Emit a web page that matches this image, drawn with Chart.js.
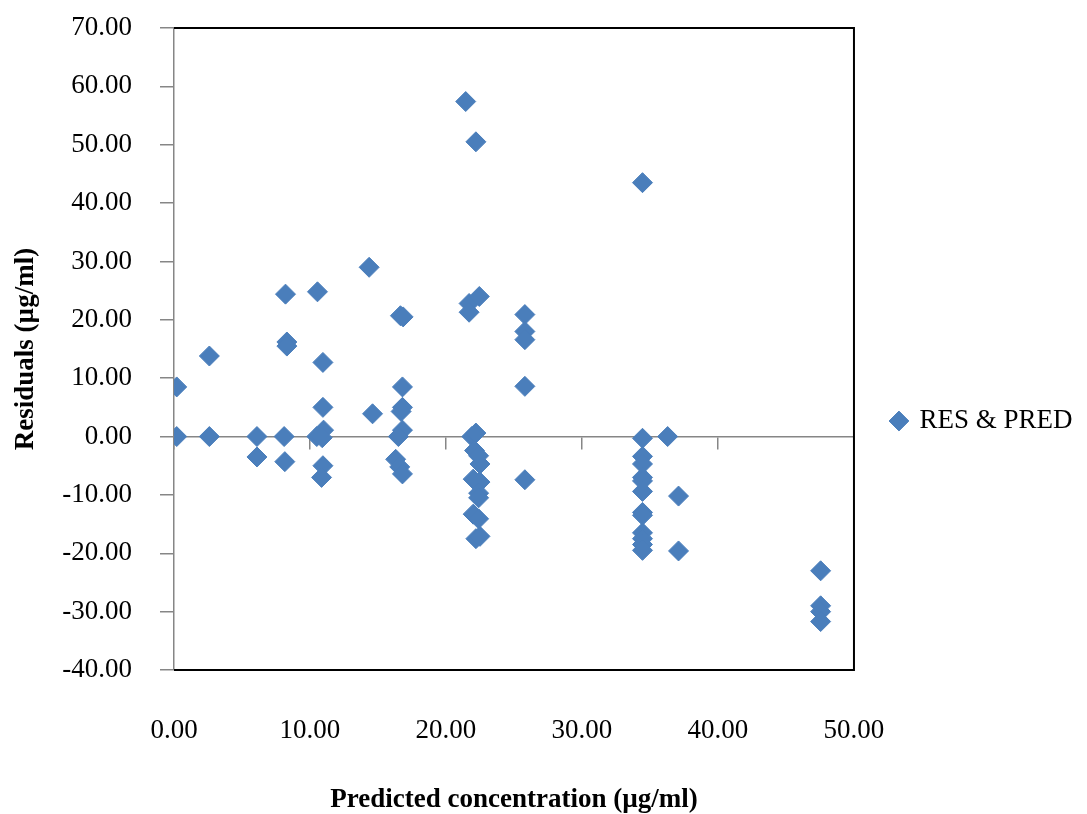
<!DOCTYPE html>
<html>
<head>
<meta charset="utf-8">
<title>Residuals vs predicted concentration</title>
<script src="https://cdn.jsdelivr.net/npm/chart.js@4.4.1/dist/chart.umd.min.js"></script>
<style>
  html, body { margin: 0; padding: 0; background: #fff; }
  #wrap { width: 1087px; height: 814px; }
</style>
</head>
<body>
<div id="wrap"><canvas id="chart" width="1087" height="814"></canvas></div>
<script>
// values
const seriesName = 'RES & PRED';
const predicted = [
    0.2, 0.2, 2.6, 2.6, 6.1, 6.1,
    8.2, 8.3, 8.3, 8.1, 8.15,
    10.55, 10.95, 10.95, 11.0, 10.5, 10.9, 10.95, 10.85,
    14.35, 14.6,
    16.65, 16.85, 16.8, 16.8, 16.7, 16.8, 16.5, 16.3, 16.6, 16.8,
    21.45, 22.2, 21.7, 22.45, 21.7,
    21.9, 22.2, 22.1, 22.4, 22.5, 22.0, 22.5, 22.4, 22.4, 22.0, 22.4, 22.2, 22.5,
    25.8, 25.8, 25.8, 25.8, 25.8,
    34.45, 34.45, 34.45, 34.45, 34.45, 34.45, 34.45, 34.45, 34.45, 34.45, 34.45, 34.45, 34.45,
    36.3, 37.1, 37.1,
    47.55, 47.55, 47.55, 47.55,
];
const residuals = [
    8.5, 0.0, 13.8, 0.0, 0.0, -3.5,
    24.4, 16.2, 15.5, 0.0, -4.3,
    24.8, 12.7, 5.0, 1.1, 0.0, -0.2, -5.0, -7.0,
    29.0, 3.9,
    20.7, 20.5, 8.5, 5.0, 4.3, 1.1, 0.0, -3.9, -5.2, -6.4,
    57.4, 50.5, 22.8, 24.0, 21.3,
    0.0, 0.6, -2.4, -3.3, -4.7, -7.3, -7.8, -9.7, -10.5, -13.3, -14.1, -17.5, -17.1,
    20.9, 18.0, 16.6, 8.6, -7.4,
    43.5, -0.3, -3.4, -4.7, -7.0, -7.6, -9.4, -13.0, -13.5, -16.5, -17.5, -18.5, -19.5,
    0.0, -10.2, -19.6,
    -23.0, -29.0, -30.0, -31.7,
];
const xTitle = 'Predicted concentration (µg/ml)';
const yTitle = 'Residuals (µg/ml)';
const xRange = { min: 0, max: 50, step: 10 };
const yRange = { min: -40, max: 70, step: 10 };

const serif = "'Liberation Serif', 'Times New Roman', serif";
const axisGray = '#868686';
const markerBlue = '#4a7ebb';

// black frame on top, right and bottom of the plot area (Excel style)
const plotFrame = {
    id: 'plotFrame',
    beforeDatasetsDraw(chart) {
        const { ctx, chartArea: a } = chart;
        ctx.save();
        ctx.strokeStyle = '#000';
        ctx.lineWidth = 2;
        ctx.beginPath();
        ctx.moveTo(a.left, a.top);
        ctx.lineTo(a.right, a.top);
        ctx.lineTo(a.right, a.bottom);
        ctx.lineTo(a.left, a.bottom);
        ctx.stroke();
        ctx.restore();
    },
};

const points = predicted.map((x, i) => ({ x, y: residuals[i] }));
const fmt = (v) => Number(v).toFixed(2);

new Chart(document.getElementById('chart'), {
    type: 'scatter',
    data: {
        datasets: [
            {
                label: seriesName,
                data: points,
                pointStyle: 'rectRot',
                pointRadius: 10,
                backgroundColor: markerBlue,
                borderColor: markerBlue,
                borderWidth: 1,
            },
        ],
    },
    options: {
        responsive: false,
        animation: false,
        events: [],
        layout: { padding: { top: 28, right: 4.5, bottom: 0, left: 0 } },
        plugins: {
            tooltip: { enabled: false },
            legend: {
                position: 'right',
                labels: {
                    usePointStyle: true,
                    boxWidth: 14,
                    boxHeight: 14,
                    padding: 38,
                    color: '#000',
                    font: { family: serif, size: 27 },
                },
            },
        },
        scales: {
            // horizontal axis line crossing at zero, marks only
            x: {
                type: 'linear',
                position: { y: 0 },
                min: xRange.min,
                max: xRange.max,
                ticks: { display: false, stepSize: xRange.step },
                grid: { drawOnChartArea: false, drawTicks: true, tickLength: 12, color: axisGray, lineWidth: 1.5 },
                border: { color: axisGray, width: 1.5 },
            },
            // labels and title at the bottom ("low" labels)
            x2: {
                type: 'linear',
                position: 'bottom',
                min: xRange.min,
                max: xRange.max,
                ticks: {
                    stepSize: xRange.step,
                    padding: 37,
                    color: '#000',
                    font: { family: serif, size: 27 },
                    callback: fmt,
                },
                grid: { display: false },
                border: { display: false },
                title: {
                    display: true,
                    text: xTitle,
                    color: '#000',
                    font: { family: serif, size: 27, weight: 'bold' },
                    padding: { top: 0, bottom: -2 },
                },
                afterFit(scale) {
                    scale.height = 144;
                },
            },
            y: {
                type: 'linear',
                position: 'left',
                min: yRange.min,
                max: yRange.max,
                ticks: {
                    stepSize: yRange.step,
                    padding: 28,
                    color: '#000',
                    font: { family: serif, size: 27 },
                    callback: fmt,
                },
                grid: { drawOnChartArea: false, drawTicks: true, tickLength: 14, color: axisGray, lineWidth: 1.5 },
                border: { color: axisGray, width: 1.5 },
                title: {
                    display: true,
                    text: yTitle,
                    color: '#000',
                    font: { family: serif, size: 27, weight: 'bold' },
                    padding: { top: 10, bottom: 0 },
                },
                afterFit(scale) {
                    scale.width = 174;
                    // the top label may overhang; keep the plot top at the layout padding
                    scale.paddingTop = 0;
                    scale.paddingBottom = 0;
                },
            },
        },
    },
    plugins: [plotFrame],
});
</script>
</body>
</html>
